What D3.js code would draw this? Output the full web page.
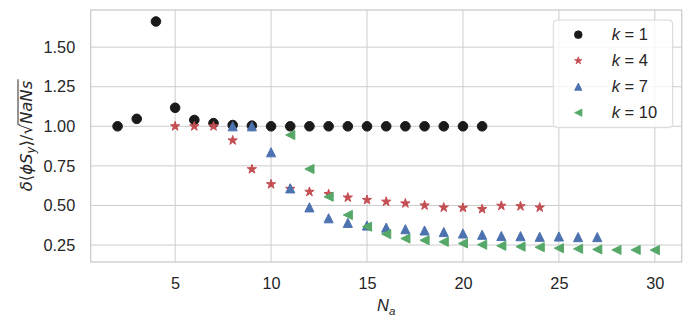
<!DOCTYPE html>
<html>
<head>
<meta charset="utf-8">
<script src="https://cdn.jsdelivr.net/npm/d3@7"></script>
<style>
  body { margin: 0; background: #fff; }
  text { font-family: "Liberation Sans", Arial, sans-serif; fill: #262626; }
</style>
</head>
<body>
<div class="chart"></div>
<script>
// values
const k1N = [2, 3, 4, 5, 6, 7, 8, 9, 10, 11, 12, 13, 14, 15, 16, 17, 18, 19, 20, 21];
const k1Val = [1.00, 1.047, 1.662, 1.117, 1.04, 1.02, 1.008, 1.004, 1.0, 1.0, 1.0, 1.0, 1.0, 1.0, 1.0, 1.0, 1.0, 1.0, 1.0, 1.0];

const k4N = [5, 6, 7, 8, 9, 10, 11, 12, 13, 14, 15, 16, 17, 18, 19, 20, 21, 22, 23, 24];
const k4Val = [1.0, 1.0, 1.0, 0.911, 0.729, 0.634, 0.605, 0.586, 0.572, 0.55, 0.535, 0.524, 0.513, 0.50, 0.487, 0.485, 0.477, 0.498, 0.495, 0.487];

const k7N = [8, 9, 10, 11, 12, 13, 14, 15, 16, 17, 18, 19, 20, 21, 22, 23, 24, 25, 26, 27];
const k7Val = [1.0, 1.0, 0.836, 0.608, 0.488, 0.419, 0.39, 0.373, 0.36, 0.35, 0.342, 0.332, 0.323, 0.315, 0.307, 0.306, 0.302, 0.304, 0.30, 0.30];

const k10N = [11, 12, 13, 14, 15, 16, 17, 18, 19, 20, 21, 22, 23, 24, 25, 26, 27, 28, 29, 30];
const k10Val = [0.945, 0.73, 0.555, 0.44, 0.366, 0.319, 0.291, 0.28, 0.27, 0.26, 0.252, 0.245, 0.24, 0.236, 0.23, 0.226, 0.222, 0.219, 0.219, 0.218];

const seriesLabels = ["1", "4", "7", "10"];
const xTicks = [5, 10, 15, 20, 25, 30];
const yTicks = [0.25, 0.50, 0.75, 1.00, 1.25, 1.50];

const colors = ["#1a1a1a", "#C44E52", "#4C72B0", "#55A868"];
const ms = 9.6;

// matplotlib-like marker paths, centred on 0,0
function markerPath(kind, size) {
  const h = size / 2;
  if (kind === "circle") return d3.symbol(d3.symbolCircle, Math.PI * h * h)();
  if (kind === "star") {
    const pts = [];
    for (let i = 0; i < 10; i++) {
      const r = i % 2 === 0 ? h : h * 0.381966;
      const a = -Math.PI / 2 + i * Math.PI / 5;
      pts.push([r * Math.cos(a), r * Math.sin(a)]);
    }
    return "M" + pts.map(p => p.join(",")).join("L") + "Z";
  }
  if (kind === "up") return `M0,${-h}L${-h},${h}L${h},${h}Z`;
  if (kind === "left") return `M${-h},0L${h},${-h}L${h},${h}Z`;
}

const series = [
  { n: k1N, v: k1Val, marker: "circle", size: ms },
  { n: k4N, v: k4Val, marker: "star", size: ms * 1.02 },
  { n: k7N, v: k7Val, marker: "up", size: ms * 0.95 },
  { n: k10N, v: k10Val, marker: "left", size: ms * 0.95 }
];

const width = 693, height = 327;
const margin = { top: 10, right: 11.3, bottom: 65, left: 90.7 };

const svg = d3.select(".chart").append("svg")
  .attr("width", width)
  .attr("height", height);

const x = d3.scaleLinear().domain([0.6, 31.4]).range([margin.left, width - margin.right]);
const y = d3.scaleLinear().domain([0.1428, 1.7347]).range([height - margin.bottom, margin.top]);

const gridColor = "#cccccc";

// grid
svg.append("g").selectAll("line").data(xTicks).enter().append("line")
  .attr("x1", d => x(d)).attr("x2", d => x(d))
  .attr("y1", margin.top).attr("y2", height - margin.bottom)
  .attr("stroke", gridColor).attr("stroke-width", 1);
svg.append("g").selectAll("line").data(yTicks).enter().append("line")
  .attr("y1", d => y(d)).attr("y2", d => y(d))
  .attr("x1", margin.left).attr("x2", width - margin.right)
  .attr("stroke", gridColor).attr("stroke-width", 1);

// frame
svg.append("rect")
  .attr("x", margin.left).attr("y", margin.top)
  .attr("width", width - margin.left - margin.right)
  .attr("height", height - margin.top - margin.bottom)
  .attr("fill", "none").attr("stroke", gridColor).attr("stroke-width", 1.3);

// tick labels via d3 axes, lines hidden
const xAxis = svg.append("g")
  .attr("transform", `translate(0,${height - margin.bottom})`)
  .call(d3.axisBottom(x).tickValues(xTicks).tickSize(0).tickPadding(15));
const yAxis = svg.append("g")
  .attr("transform", `translate(${margin.left},0)`)
  .call(d3.axisLeft(y).tickValues(yTicks).tickFormat(d3.format(".2f")).tickSize(0).tickPadding(15.5));
[xAxis, yAxis].forEach(a => {
  a.select(".domain").remove();
  a.selectAll("text").style("font-size", "16.3px").attr("fill", "#262626")
    .style("font-family", "'Liberation Sans', Arial, sans-serif");
});

// points
series.forEach((s, i) => {
  svg.append("g").selectAll("path")
    .data(s.n.map((n, j) => [n, s.v[j]]))
    .enter().append("path")
    .attr("d", markerPath(s.marker, s.size))
    .attr("transform", d => `translate(${x(d[0])},${y(d[1])})`)
    .attr("fill", colors[i])
    .attr("stroke", colors[i])
    .attr("stroke-width", 1)
    .attr("stroke-linejoin", "miter");
});

// axis labels
const xl = svg.append("text")
  .attr("x", (margin.left + width - margin.right) / 2)
  .attr("y", 311)
  .attr("text-anchor", "middle")
  .style("font-size", "16.5px");
xl.append("tspan").style("font-style", "italic").text("N");
xl.append("tspan").style("font-style", "italic").style("font-size", "11.5px").attr("dy", 3.5).text("a");

const yl = svg.append("g")
  .attr("transform", `translate(32,${(margin.top + height - margin.bottom) / 2}) rotate(-90)`);
const ylt = yl.append("text")
  .attr("text-anchor", "middle")
  .style("font-size", "16.5px")
  .style("font-family", "'DejaVu Sans', sans-serif");
ylt.append("tspan").style("font-style", "italic").text("δ");
ylt.append("tspan").text("⟨");
ylt.append("tspan").style("font-style", "italic").text("ϕS");
ylt.append("tspan").style("font-style", "italic").style("font-size", "11.5px").attr("dy", 3).text("y");
ylt.append("tspan").attr("dy", -3).text("⟩/√");
const under = ylt.append("tspan").style("font-style", "italic").text("NaNs");
const bb = under.node().getBBox();
yl.append("line")
  .attr("x1", bb.x - 1).attr("x2", bb.x + bb.width + 1)
  .attr("y1", bb.y + 1).attr("y2", bb.y + 1)
  .attr("stroke", "#262626").attr("stroke-width", 1);

// legend
const lg = svg.append("g").attr("transform", "translate(553.3,20)");
lg.append("rect")
  .attr("width", 119.4).attr("height", 107.7)
  .attr("rx", 4)
  .attr("fill", "#ffffff").attr("fill-opacity", 0.8)
  .attr("stroke", "#d6d6d6").attr("stroke-width", 1);
seriesLabels.forEach((lab, i) => {
  const row = lg.append("g").attr("transform", `translate(0,${14.7 + i * 26})`);
  row.append("path")
    .attr("d", markerPath(series[i].marker, series[i].size * 0.8))
    .attr("transform", "translate(25,0)")
    .attr("fill", colors[i])
    .attr("stroke", colors[i])
    .attr("stroke-width", 0.8);
  const t = row.append("text").attr("x", 58.4).attr("dy", "0.35em").style("font-size", "16.5px");
  t.append("tspan").style("font-style", "italic").text("k");
  t.append("tspan").text(" = " + lab);
});
</script>
</body>
</html>
